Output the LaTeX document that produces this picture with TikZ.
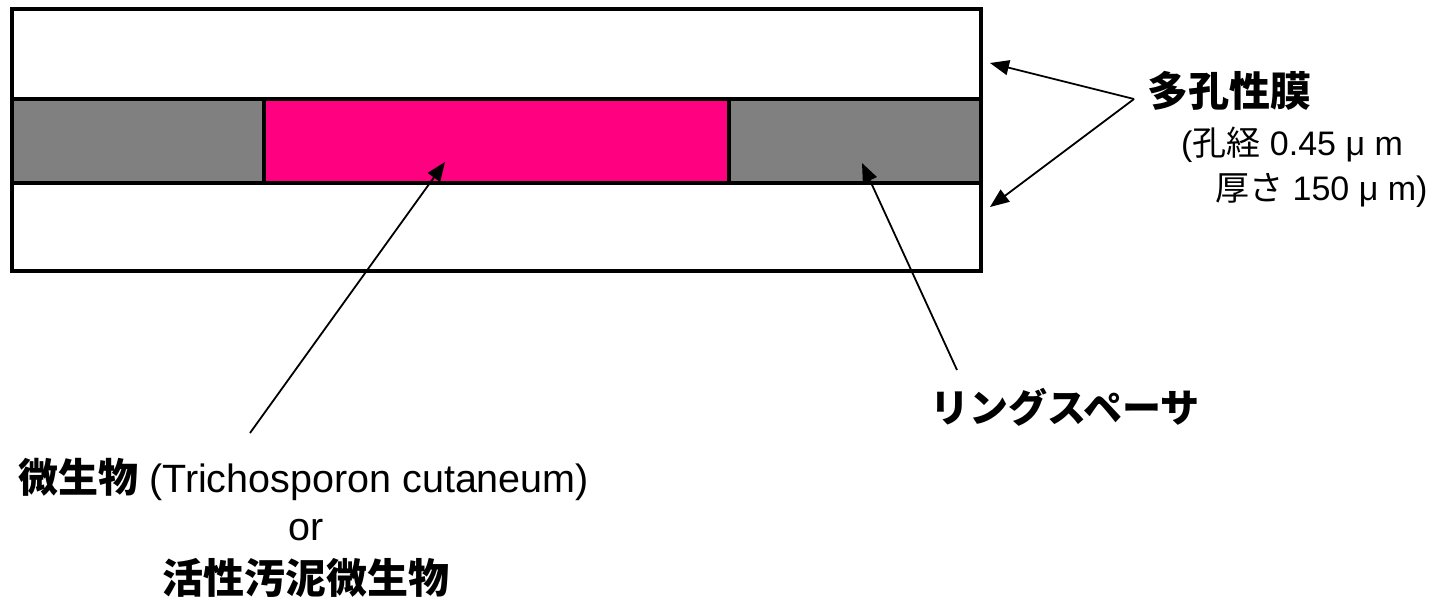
\documentclass[tikz,border=0pt]{standalone}
\usepackage{fontspec}
\setmainfont{Liberation Sans}
\newfontfamily\jp{Noto Sans CJK JP}
\usetikzlibrary{arrows.meta}
\definecolor{pinkfill}{HTML}{FF0080}
\definecolor{grayfill}{HTML}{808080}
\tikzset{
  frame/.style={line width=4pt, draw=black},
  callout/.style={line width=1.8pt, -{Triangle[length=19pt,width=15pt]}},
  bigjp/.style={inner sep=0pt, font=\jp\bfseries\fontsize{39}{44}\selectfont},
  smalltxt/.style={inner sep=0pt, font=\fontsize{34}{40}\selectfont},
}
\begin{document}
\begin{tikzpicture}[x=1pt,y=-1pt]
\useasboundingbox (0,0) rectangle (1441,603);
% fills
\fill[grayfill] (12,99) rectangle (264,183);
\fill[pinkfill] (264,99) rectangle (729,183);
\fill[grayfill] (729,99) rectangle (981,183);
% frame
\draw[frame] (12,9) rectangle (981,271);
\draw[frame] (12,99) -- (981,99);
\draw[frame] (12,183) -- (981,183);
\draw[frame] (264,99) -- (264,183);
\draw[frame] (729,99) -- (729,183);

% labels
\node[bigjp, anchor=west, font=\jp\bfseries\fontsize{41}{46}\selectfont] (memb) at (1147,91) {多孔性膜};
\node[smalltxt, anchor=west] (pore) at (1181,145) {(\jp 孔経\rmfamily{} 0.45 μ m};
\node[smalltxt, anchor=west] (thick) at (1215,190) {\jp 厚さ\rmfamily{} 150 μ m)};
\node[bigjp, anchor=center] (ring) at (1065,407) {リングスペーサ};
\node[anchor=base west, inner sep=0pt] (micro) at (18,492) {{\jp\bfseries\fontsize{40}{44}\selectfont 微生物}\hspace{11pt}\fontsize{39.5}{44}\selectfont(Trichosporon cutaneum)};
\node[anchor=base, inner sep=0pt, font=\fontsize{39.5}{44}\selectfont] (or) at (306,540) {or};
\node[bigjp, anchor=base, font=\jp\bfseries\fontsize{41}{46}\selectfont] (sludge) at (306,593) {活性汚泥微生物};

% connector points
\coordinate (apex) at (1134,99);
\coordinate (tipTop) at (990,63);
\coordinate (tipBot) at (990,207);
\coordinate (microTail) at (250,433);
\coordinate (microTip) at (445,162);
\coordinate (ringTail) at (957,370);
\coordinate (ringTip) at (862,163);

\draw[callout] (apex) -- (tipTop);
\draw[callout] (apex) -- (tipBot);
\draw[callout] (microTail) -- (microTip);
\draw[callout] (ringTail) -- (ringTip);
\end{tikzpicture}
\end{document}
